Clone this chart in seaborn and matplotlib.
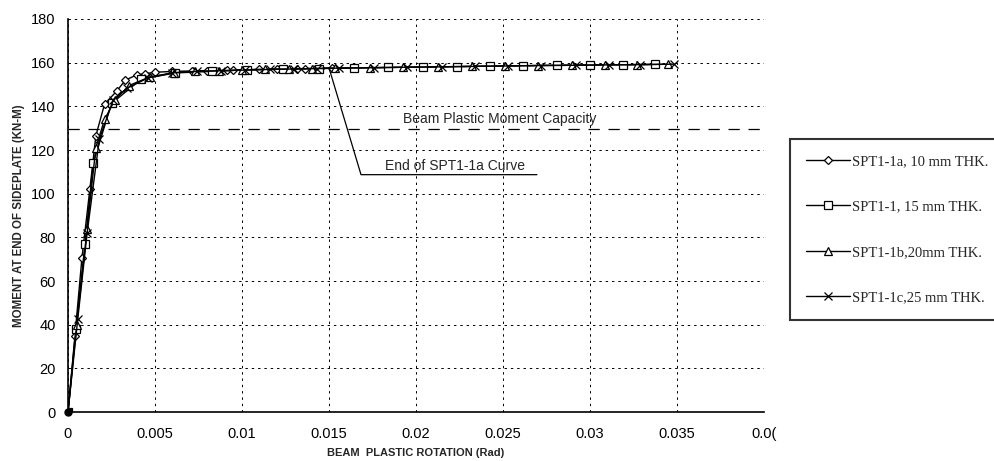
import matplotlib
matplotlib.use("Agg")
import matplotlib.pyplot as plt
import seaborn as sns
import pandas as pd

# Beam plastic rotation (rad) and moment at end of sideplate (kN-m)
rot_1a = [0, 0.00040, 0.00080, 0.00126, 0.00160, 0.00210, 0.00280, 0.00330, 0.00395,
          0.00445, 0.00500, 0.00600, 0.00713, 0.00800, 0.00914, 0.00950, 0.01100,
          0.01200, 0.01316, 0.01360, 0.01450, 0.01517]
mom_1a = [0, 35.0, 70.5, 102.3, 126.5, 141.0, 147.0, 152.0, 154.4, 155.0, 155.6, 156.0,
          156.2, 156.4, 156.5, 156.7, 156.9, 157.0, 157.2, 157.3, 157.4, 157.6]

rot_1 = [0, 0.00045, 0.00098, 0.00145, 0.00250, 0.00420, 0.00615, 0.00826, 0.01027,
         0.01237, 0.01444, 0.01644, 0.01837, 0.02038, 0.02234, 0.02425, 0.02613,
         0.02808, 0.03000, 0.03191, 0.03374]
mom_1 = [0, 38.0, 77.0, 114.0, 141.3, 152.4, 155.3, 156.0, 156.8, 157.1, 157.3, 157.6,
         157.8, 158.0, 158.2, 158.4, 158.6, 158.8, 159.0, 159.1, 159.2]

rot_1b = [0, 0.00050, 0.00110, 0.00160, 0.00210, 0.00270, 0.00350, 0.00470, 0.00610,
          0.00730, 0.00870, 0.01000, 0.01130, 0.01270, 0.01400, 0.01534, 0.01736,
          0.01925, 0.02126, 0.02322, 0.02511, 0.02701, 0.02897, 0.03086, 0.03270, 0.03448]
mom_1b = [0, 40.0, 84.0, 121.0, 134.0, 143.0, 149.5, 153.5, 155.4, 156.0, 156.3, 156.6,
          156.9, 157.1, 157.3, 157.5, 157.7, 157.9, 158.1, 158.3, 158.5, 158.7, 158.8,
          159.0, 159.1, 159.3]

rot_1c = [0, 0.00056, 0.00110, 0.00180, 0.00260, 0.00340, 0.00460, 0.00600, 0.00740,
          0.00880, 0.01020, 0.01160, 0.01300, 0.01430, 0.01560, 0.01760, 0.01950,
          0.02150, 0.02340, 0.02530, 0.02720, 0.02920, 0.03110, 0.03290, 0.03480]
mom_1c = [0, 42.5, 82.0, 125.0, 143.0, 148.3, 153.0, 155.3, 156.0, 156.3, 156.6, 156.9,
          157.1, 157.3, 157.5, 157.7, 157.9, 158.1, 158.3, 158.5, 158.7, 158.8, 159.0,
          159.1, 159.3]

labels = ["SPT1-1a, 10 mm THK.", "SPT1-1, 15 mm THK.",
          "SPT1-1b,20mm THK.", "SPT1-1c,25 mm THK."]
capacity = 129.7
end_1a = (0.0150, 157.6)

x_ticks = [0, 0.005, 0.01, 0.015, 0.02, 0.025, 0.03, 0.035, 0.04]
x_tick_labels = ["0", "0.005", "0.01", "0.015", "0.02", "0.025", "0.03", "0.035", "0.0("]
y_ticks = list(range(0, 181, 20))

series = [(rot_1a, mom_1a, "D", 4.2), (rot_1, mom_1, "s", 5.8),
          (rot_1b, mom_1b, "^", 5.8), (rot_1c, mom_1c, "x", 5.5)]

frames = []
for (r, m, _, _), lab in zip(series, labels):
    frames.append(pd.DataFrame({"rot": r, "mom": m, "test": lab}))
df = pd.concat(frames, ignore_index=True)

sns.set_style("white")
plt.rcParams["font.family"] = ["Liberation Sans", "DejaVu Sans"]

fig = plt.figure(figsize=(9.95, 4.61), dpi=100)
ax = fig.add_axes([68 / 995, 1 - 412 / 461, (764 - 68) / 995, (412 - 19) / 461])

handles = []
for (r, m, mk, ms), lab in zip(series, labels):
    sub = df[df["test"] == lab]
    sns.lineplot(data=sub, x="rot", y="mom", ax=ax, sort=False, color="black",
                 linewidth=1.0, marker=mk, markersize=ms, markerfacecolor="white",
                 markeredgecolor="black", markeredgewidth=0.9, label=lab, legend=False)
    handles.append(ax.lines[-1])

# Solid point at the origin
ax.plot([0], [0], marker="o", markersize=5, color="black", clip_on=False, zorder=5)

ax.set_xlim(0, 0.04)
ax.set_ylim(0, 180)
ax.set_xticks(x_ticks)
ax.set_xticklabels(x_tick_labels)
ax.set_yticks(y_ticks)
ax.tick_params(axis="both", labelsize=10.5, colors="black", length=4, width=0.8)
ax.tick_params(axis="x", direction="inout", length=6, pad=8)
ax.tick_params(axis="y", direction="out", length=4, pad=5)

ax.grid(True, color="black", linestyle=(0, (2.5, 4)), linewidth=0.7)
for side in ["top", "right"]:
    ax.spines[side].set_visible(False)
for side in ["left", "bottom"]:
    ax.spines[side].set_color("black")
    ax.spines[side].set_linewidth(1.2)

# Beam plastic moment capacity line
ax.axhline(capacity, color="black", linestyle=(0, (9, 7)), linewidth=0.9, zorder=1)
ax.text(0.0248, 134.3, "Beam Plastic Moment Capacity", ha="center", va="center",
        fontsize=10)

# Callout marking the end of the SPT1-1a curve
ax.plot([end_1a[0], 0.01684, 0.02695], [end_1a[1], 108.7, 108.7], color="black",
        linewidth=0.9)
ax.text(0.02224, 112.6, "End of SPT1-1a Curve", ha="center", va="center", fontsize=10)

ax.set_xlabel("BEAM  PLASTIC ROTATION (Rad)", fontsize=8, fontweight="bold", labelpad=5)
ax.set_ylabel("MOMENT AT END OF SIDEPLATE (KN-M)", fontsize=8.3, fontweight="bold",
              labelpad=4)

leg = fig.legend(handles, labels, loc="upper left",
                 bbox_to_anchor=(790 / 995, 1 - 139 / 461), frameon=True,
                 fancybox=False, borderpad=1.1, labelspacing=2.2, handlelength=3.0,
                 handletextpad=0.15, borderaxespad=0,
                 prop={"family": ["Liberation Serif"], "size": 10.5})
leg.get_frame().set_edgecolor("black")
leg.get_frame().set_linewidth(1.5)

fig.savefig("out.png", dpi=100, facecolor="white")
